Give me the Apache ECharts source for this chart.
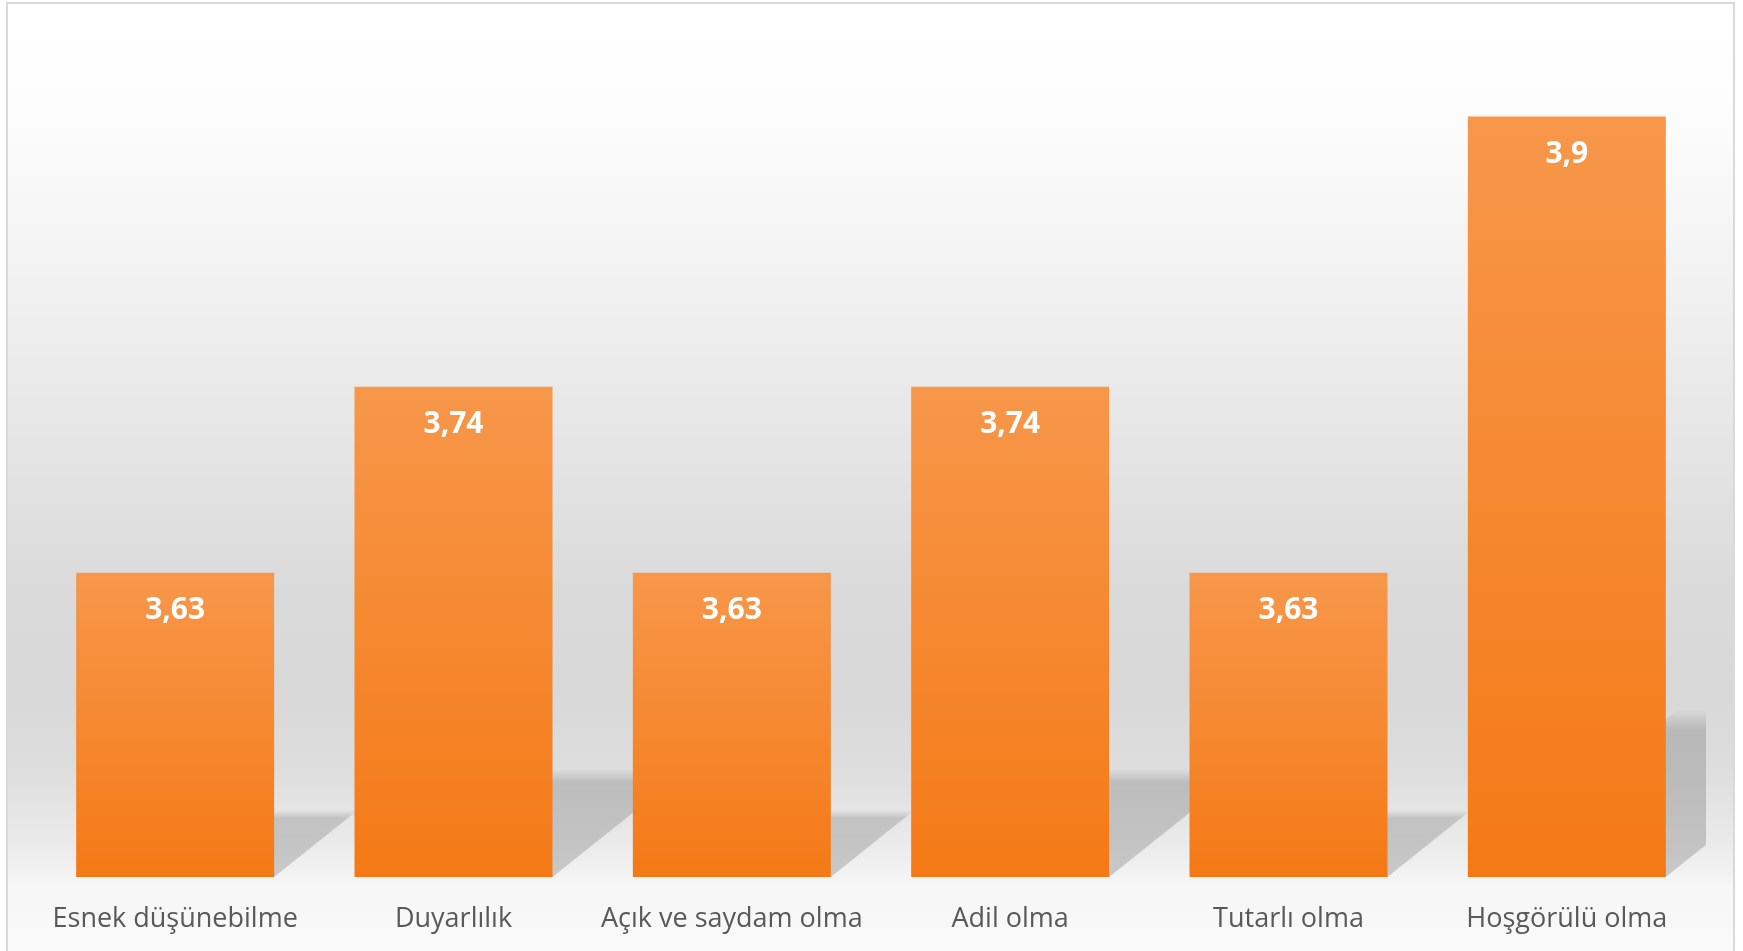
<!DOCTYPE html>
<html>
<head>
<meta charset="utf-8">
<script src="https://cdn.jsdelivr.net/npm/echarts@6/dist/echarts.min.js"></script>
<style>
html,body{margin:0;padding:0;background:#fff;}
#c{width:1743px;height:951px;}
</style>
</head>
<body>
<div id="c"></div>
<script>
const categories = ["Esnek düşünebilme", "Duyarlılık", "Açık ve saydam olma", "Adil olma", "Tutarlı olma", "Hoşgörülü olma"];
const values = [3.63, 3.74, 3.63, 3.74, 3.63, 3.9];
const axisMin = 3.45;
const axisMax = 3.96;

const chart = echarts.init(document.getElementById('c'));
const BAR_W = 198;

const option = {
  backgroundColor: '#ffffff',
  animation: false,
  graphic: {
    elements: [{
      type: 'rect',
      z: -10,
      silent: true,
      shape: { x: 7, y: 3, width: 1727, height: 980 },
      style: {
        fill: new echarts.graphic.LinearGradient(0, 0, 0, 1, [
          { offset: 0, color: '#ffffff' },
          { offset: 0.1, color: '#fdfdfd' },
          { offset: 0.26, color: '#f3f3f3' },
          { offset: 0.45, color: '#e5e5e5' },
          { offset: 0.6, color: '#dadada' },
          { offset: 0.7, color: '#d8d8d8' },
          { offset: 0.78, color: '#dddddd' },
          { offset: 0.86, color: '#ebebeb' },
          { offset: 0.9, color: '#f6f6f6' },
          { offset: 1, color: '#fbfbfb' }
        ]),
        stroke: '#d9d9d9',
        lineWidth: 2
      }
    }]
  },
  grid: { left: 36, right: 37, top: 15, bottom: 74, containLabel: false },
  xAxis: {
    type: 'category',
    data: categories,
    axisLine: { show: false },
    axisTick: { show: false },
    axisLabel: {
      color: '#595959',
      fontSize: 27,
      fontFamily: 'Open Sans',
      margin: 29,
      interval: 0
    }
  },
  yAxis: {
    type: 'value',
    min: axisMin,
    max: axisMax,
    show: false,
    splitLine: { show: false }
  },
  series: [
    {
      type: 'custom',
      z: 1,
      clip: true,
      silent: true,
      data: values.map((v, i) => [i, v]),
      encode: { x: 0, y: 1 },
      renderItem: function (params, api) {
        const idx = api.value(0);
        const v = api.value(1);
        const top = api.coord([idx, v]);
        const base = api.coord([idx, axisMin]);
        const x0 = top[0] - BAR_W / 2;
        const x1 = top[0] + BAR_W / 2;
        const yb = base[1];
        const h = yb - top[1];
        const sh = 0.22 * h;
        const dx = sh / 0.8;
        return {
          type: 'polygon',
          shape: {
            points: [[x0, yb], [x1, yb], [x1 + dx, yb - sh], [x0 + dx, yb - sh]]
          },
          style: {
            fill: new echarts.graphic.LinearGradient(0, 0, 0, 1, [
              { offset: 0, color: 'rgba(0,0,0,0)' },
              { offset: 0.12, color: 'rgba(0,0,0,0.15)' },
              { offset: 1, color: 'rgba(0,0,0,0.17)' }
            ]),
            shadowBlur: 8,
            shadowColor: 'rgba(0,0,0,0.06)'
          }
        };
      }
    },
    {
      type: 'bar',
      z: 2,
      data: values,
      barWidth: BAR_W,
      itemStyle: {
        color: new echarts.graphic.LinearGradient(0, 0, 0, 1, [
          { offset: 0, color: '#f7974a' },
          { offset: 1, color: '#f47916' }
        ])
      },
      label: {
        show: true,
        position: 'insideTop',
        distance: 23,
        color: '#ffffff',
        fontSize: 30,
        fontWeight: 'bold',
        fontFamily: 'Open Sans',
        formatter: function (p) { return String(p.value).replace('.', ','); }
      }
    }
  ]
};
chart.setOption(option);
</script>
</body>
</html>
